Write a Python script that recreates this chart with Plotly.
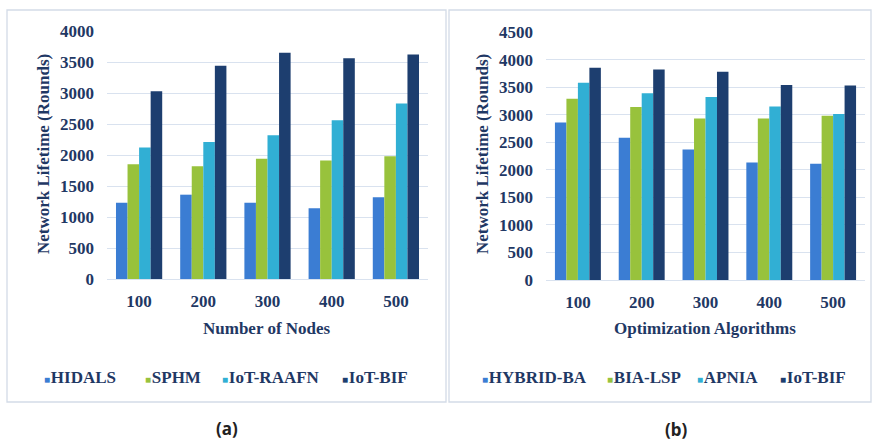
import plotly.graph_objects as go

# ---- data -------------------------------------------------------------
node_counts = ["100", "200", "300", "400", "500"]

series_a = ["HIDALS", "SPHM", "IoT-RAAFN", "IoT-BIF"]
hidals = [1230, 1360, 1230, 1140, 1320]
sphm = [1850, 1820, 1940, 1910, 1980]
iot_raafn = [2120, 2210, 2320, 2560, 2830]
iot_bif_a = [3030, 3440, 3650, 3560, 3620]

series_b = ["HYBRID-BA", "BIA-LSP", "APNIA", "IoT-BIF"]
hybrid_ba = [2860, 2580, 2370, 2130, 2110]
bia_lsp = [3290, 3140, 2930, 2930, 2980]
apnia = [3580, 3390, 3320, 3150, 3010]
iot_bif_b = [3850, 3820, 3780, 3540, 3530]

y_ticks_a = [0, 500, 1000, 1500, 2000, 2500, 3000, 3500, 4000]
y_ticks_b = [0, 500, 1000, 1500, 2000, 2500, 3000, 3500, 4000, 4500]

colors = ["#3b7dd3", "#98c23c", "#31afd4", "#1d3e6f"]

# ---- styling ----------------------------------------------------------
W, H = 873, 443
TEXT = "#1f3864"
GRID = "#d9e2ef"
SERIF = "Liberation Serif, Times New Roman, serif"


def px(x):
    return x / W


def py(y):
    return 1 - y / H


fig = go.Figure()

for name, vals, col in zip(series_a, [hidals, sphm, iot_raafn, iot_bif_a], colors):
    fig.add_trace(go.Bar(x=node_counts, y=vals, name=name, marker_color=col,
                         marker_line_width=0, xaxis="x", yaxis="y", showlegend=False))

for name, vals, col in zip(series_b, [hybrid_ba, bia_lsp, apnia, iot_bif_b], colors):
    fig.add_trace(go.Bar(x=node_counts, y=vals, name=name, marker_color=col,
                         marker_line_width=0, xaxis="x2", yaxis="y2", showlegend=False))

tick_font = dict(family=SERIF, size=17, color=TEXT, weight="bold")

xaxis_common = dict(type="category", showgrid=False, showline=True, linecolor=GRID,
                    linewidth=1, ticks="", tickfont=tick_font, ticklabelstandoff=7,
                    automargin=False, fixedrange=True)
yaxis_common = dict(showgrid=True, gridcolor=GRID, gridwidth=1, zeroline=False,
                    showline=False, ticks="", tickfont=tick_font, ticklabelstandoff=12,
                    automargin=False, fixedrange=True)

fig.update_layout(
    width=W, height=H,
    margin=dict(l=0, r=0, t=0, b=0, autoexpand=False),
    paper_bgcolor="white", plot_bgcolor="white",
    barmode="group", bargap=0.28, bargroupgap=0,
    showlegend=False,
    xaxis=dict(domain=[px(107), px(428)], anchor="y", **xaxis_common),
    yaxis=dict(domain=[py(279), py(31)], anchor="x", range=[0, 4000],
               tickvals=y_ticks_a, **yaxis_common),
    xaxis2=dict(domain=[px(546), px(865)], anchor="y2", **xaxis_common),
    yaxis2=dict(domain=[py(280), py(32)], anchor="x2", range=[0, 4500],
                tickvals=y_ticks_b, **yaxis_common),
)

# panel frames
for x0, x1 in [(7, 446), (449, 871)]:
    fig.add_shape(type="rect", xref="paper", yref="paper",
                  x0=px(x0), x1=px(x1), y0=py(402), y1=py(10),
                  line=dict(color="#d3dbe7", width=1.3), fillcolor="rgba(0,0,0,0)",
                  layer="below")

title_font = dict(family=SERIF, size=17, color=TEXT, weight="bold")

def label(text, x, y, font, angle=0, xanchor="center"):
    fig.add_annotation(text=text, xref="paper", yref="paper", x=px(x), y=py(y),
                       xanchor=xanchor, yanchor="middle", showarrow=False,
                       textangle=angle, font=font)

# axis titles
label("Network Lifetime (Rounds)", 44, 154, title_font, angle=-90)
label("Network Lifetime (Rounds)", 483, 154, title_font, angle=-90)
label("Number of Nodes", 267, 328, dict(title_font, size=17))
label("Optimization Algorithms", 705, 328, dict(title_font, size=17))

# legends
legend_font = dict(family=SERIF, size=17, color=TEXT, weight="bold")

def legend_row(names, xs, y):
    for name, col, x in zip(names, colors, xs):
        txt = (f'<span style="color:{col};font-size:10px">■</span>'
               f'<span style="font-size:3px"> </span>{name}')
        label(txt, x, y, legend_font, xanchor="left")

legend_row(series_a, [42, 143, 220, 340], 377)
legend_row(series_b, [480, 605, 695, 778], 377)

# panel captions
cap_font = dict(family="Noto Sans, DejaVu Sans, sans-serif", size=17,
                color="#222222", weight="bold")
label("(a)", 227, 428, cap_font)
label("(b)", 676, 429, cap_font)

fig.write_html("out.html")
